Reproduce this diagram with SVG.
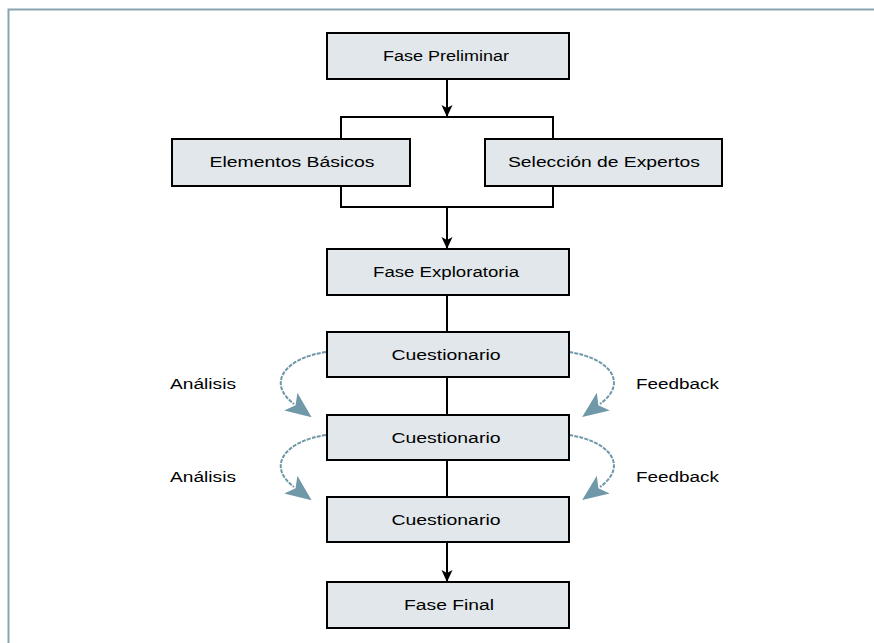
<svg xmlns="http://www.w3.org/2000/svg" width="874" height="643" viewBox="0 0 874 643">
<style>
.box{fill:#e1e7ea;stroke:#000;stroke-width:2}
.t{font-family:"Liberation Sans",Arial,sans-serif;font-size:14px;fill:#000;text-anchor:middle}
.l{font-family:"Liberation Sans",Arial,sans-serif;font-size:14px;fill:#000}
.ln{fill:none;stroke:#000;stroke-width:2}
.cv{fill:none;stroke:#6f98a8;stroke-width:2;stroke-dasharray:4 1.2}
</style>
<defs>
<marker id="ah" viewBox="0 0 12 12" refX="11" refY="6" markerWidth="12" markerHeight="12" markerUnits="userSpaceOnUse" orient="auto">
<path d="M0,0.5 L12,6 L0,11.5 L3,6 z" fill="#000"/>
</marker>
<marker id="ch" viewBox="0 0 26 22" refX="4" refY="11" markerWidth="26" markerHeight="22" markerUnits="userSpaceOnUse" orient="auto">
<path d="M0,0 L26,11 L0,22 L6,11 z" fill="#6f98a8"/>
</marker>
</defs>
<path d="M8.5,643 L8.5,9.5 L874,9.5" fill="none" stroke="#8aa3b0" stroke-width="2"/>
<g id="connectors">
<line class="ln" x1="447" y1="79" x2="447" y2="116" marker-end="url(#ah)"/>
<path class="ln" d="M341,139 L341,117 L553,117 L553,139"/>
<path class="ln" d="M341,186 L341,207 L553,207 L553,186"/>
<line class="ln" x1="447" y1="207" x2="447" y2="248" marker-end="url(#ah)"/>
<line class="ln" x1="447" y1="295" x2="447" y2="332"/>
<line class="ln" x1="447" y1="377" x2="447" y2="415"/>
<line class="ln" x1="447" y1="460" x2="447" y2="497"/>
<line class="ln" x1="447" y1="542" x2="447" y2="581" marker-end="url(#ah)"/>
<path class="cv" d="M326,352 C285,358 266,383 294,404" marker-end="url(#ch)"/>
<path class="cv" d="M569,352 C610,358 629,383 600,404" marker-end="url(#ch)"/>
<path class="cv" d="M326,435 C285,441 266,466 294,487" marker-end="url(#ch)"/>
<path class="cv" d="M569,435 C610,441 629,466 600,487" marker-end="url(#ch)"/>
</g>
<g id="fase-preliminar"><rect class="box" x="327" y="33" width="242" height="46"/><text class="t" x="446" y="61" textLength="126" lengthAdjust="spacingAndGlyphs">Fase Preliminar</text></g>
<g id="elementos-basicos"><rect class="box" x="172" y="139" width="238" height="47"/><text class="t" x="292" y="167" textLength="165" lengthAdjust="spacingAndGlyphs">Elementos Básicos</text></g>
<g id="seleccion-expertos"><rect class="box" x="485" y="139" width="237" height="47"/><text class="t" x="604" y="167" textLength="192" lengthAdjust="spacingAndGlyphs">Selección de Expertos</text></g>
<g id="fase-exploratoria"><rect class="box" x="327" y="249" width="242" height="46"/><text class="t" x="446" y="277" textLength="146" lengthAdjust="spacingAndGlyphs">Fase Exploratoria</text></g>
<g id="cuestionario-1"><rect class="box" x="327" y="332" width="242" height="45"/><text class="t" x="446" y="360" textLength="109" lengthAdjust="spacingAndGlyphs">Cuestionario</text></g>
<g id="cuestionario-2"><rect class="box" x="327" y="415" width="242" height="45"/><text class="t" x="446" y="443" textLength="109" lengthAdjust="spacingAndGlyphs">Cuestionario</text></g>
<g id="cuestionario-3"><rect class="box" x="327" y="497" width="242" height="45"/><text class="t" x="446" y="525" textLength="109" lengthAdjust="spacingAndGlyphs">Cuestionario</text></g>
<g id="fase-final"><rect class="box" x="327" y="582" width="242" height="46"/><text class="t" x="449" y="610" textLength="90" lengthAdjust="spacingAndGlyphs">Fase Final</text></g>
<g id="labels">
<text class="l" x="170" y="389" textLength="66" lengthAdjust="spacingAndGlyphs">Análisis</text>
<text class="l" x="636" y="389" textLength="83" lengthAdjust="spacingAndGlyphs">Feedback</text>
<text class="l" x="170" y="482" textLength="66" lengthAdjust="spacingAndGlyphs">Análisis</text>
<text class="l" x="636" y="482" textLength="83" lengthAdjust="spacingAndGlyphs">Feedback</text>
</g>
</svg>
